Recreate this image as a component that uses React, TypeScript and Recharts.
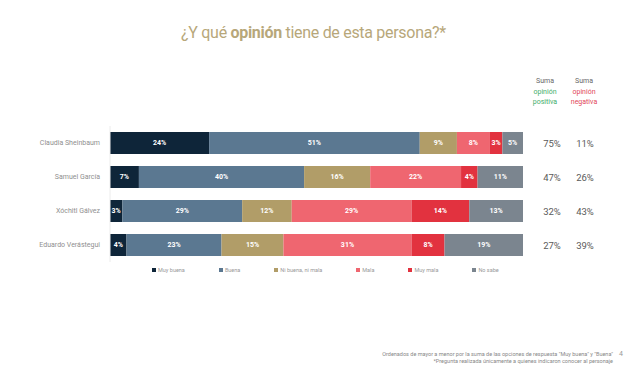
import { BarChart, Bar, XAxis, YAxis, LabelList } from 'recharts';

const candidates = ['Claudia Sheinbaum', 'Samuel García', 'Xóchitl Gálvez', 'Eduardo Verástegui'];
const muyBuena = [24, 7, 3, 4];
const buena = [51, 40, 29, 23];
const niBuena = [9, 16, 12, 15];
const mala = [8, 22, 29, 31];
const muyMala = [3, 4, 14, 8];
const noSabe = [5, 11, 13, 19];
const sumaPositiva = [75, 47, 32, 27];
const sumaNegativa = [11, 26, 43, 39];

const series = [
  { key: 'muyBuena', name: 'Muy buena', color: '#0e2539' },
  { key: 'buena', name: 'Buena', color: '#5b7891' },
  { key: 'niBuena', name: 'Ni buena, ni mala', color: '#b19d68' },
  { key: 'mala', name: 'Mala', color: '#ef6670' },
  { key: 'muyMala', name: 'Muy mala', color: '#e2323f' },
  { key: 'noSabe', name: 'No sabe', color: '#7b858f' },
];

const data = candidates.map((name, i) => ({
  name,
  muyBuena: muyBuena[i],
  buena: buena[i],
  niBuena: niBuena[i],
  mala: mala[i],
  muyMala: muyMala[i],
  noSabe: noSabe[i],
  pos: sumaPositiva[i],
}));

const font = 'Roboto, "Open Sans", sans-serif';

const SumLabel = (props: any) => {
  const { x, y, width, height, index } = props;
  const cy = y + height / 2;
  const end = x + width;
  return (
    <g fontFamily={font} fontSize={9.5} fill="#5a5a5a">
      <text x={end + 29} y={cy} textAnchor="middle" dominantBaseline="central">
        {sumaPositiva[index]}%
      </text>
      <text x={end + 62} y={cy} textAnchor="middle" dominantBaseline="central">
        {sumaNegativa[index]}%
      </text>
    </g>
  );
};

const NameTick = (props: any) => {
  const { x, y, payload } = props;
  return (
    <text x={x + 4} y={y} textAnchor="end" dominantBaseline="central" fontSize={7} fill="#8f8f8f" fontFamily={font}>
      {payload.value}
    </text>
  );
};

export default function App() {
  return (
    <div style={{ position: 'fixed', left: 0, top: 0, width: 627, height: 376, background: '#fff', fontFamily: font }}>
      <div
        style={{
          position: 'absolute',
          top: 23,
          left: 0,
          width: 627,
          textAlign: 'center',
          fontSize: 16,
          color: '#b7a77a',
          letterSpacing: -0.3,
        }}
      >
        ¿Y qué <b>opinión</b> tiene de esta persona?*
      </div>
      <div style={{ position: 'absolute', top: 76, left: 528, width: 34, textAlign: 'center', fontSize: 7, lineHeight: '10.5px' }}>
        <div style={{ color: '#666' }}>Suma</div>
        <div style={{ color: '#3fae6a' }}>opinión</div>
        <div style={{ color: '#3fae6a' }}>positiva</div>
      </div>
      <div style={{ position: 'absolute', top: 76, left: 567, width: 34, textAlign: 'center', fontSize: 7, lineHeight: '10.5px' }}>
        <div style={{ color: '#666' }}>Suma</div>
        <div style={{ color: '#e2485a' }}>opinión</div>
        <div style={{ color: '#e2485a' }}>negativa</div>
      </div>
      <div style={{ position: 'absolute', top: 0, left: 0 }}>
        <BarChart
          width={627}
          height={376}
          data={data}
          layout="vertical"
          margin={{ top: 126, right: 104, bottom: 114, left: 0 }}
          barCategoryGap={6}
        >
          <XAxis type="number" domain={[0, 100]} hide />
          <YAxis
            type="category"
            dataKey="name"
            width={110}
            tickLine={false}
            axisLine={{ stroke: '#ececec' }}
            tick={NameTick}
            tickMargin={8}
          />
          {series.map((s, idx) => (
            <Bar key={s.key} dataKey={s.key} name={s.name} stackId="a" fill={s.color} isAnimationActive={false}>
              <LabelList
                dataKey={s.key}
                position="center"
                formatter={(v: any) => `${v}%`}
                style={{ fill: '#fff', fontSize: 7, fontWeight: 700, fontFamily: font }}
              />
              {idx === series.length - 1 && <LabelList dataKey="pos" content={SumLabel} />}
            </Bar>
          ))}
        </BarChart>
      </div>
      <div
        style={{
          position: 'absolute',
          top: 267,
          left: 152,
          display: 'flex',
          gap: 34,
          fontSize: 5.5,
          color: '#999',
        }}
      >
        {series.map((s) => (
          <div key={s.key} style={{ display: 'flex', alignItems: 'center', gap: 2 }}>
            <span style={{ width: 4, height: 4, background: s.color, display: 'inline-block' }} />
            <span>{s.name}</span>
          </div>
        ))}
      </div>
      <div style={{ position: 'absolute', top: 351, right: 14, textAlign: 'right', fontSize: 5.5, lineHeight: '7px', color: '#888' }}>
        <div>Ordenados de mayor a menor por la suma de las opciones de respuesta "Muy buena" y "Buena"</div>
        <div>*Pregunta realizada únicamente a quienes indicaron conocer al personaje</div>
      </div>
      <div style={{ position: 'absolute', top: 350, left: 619, fontSize: 7, color: '#999' }}>4</div>
    </div>
  );
}
